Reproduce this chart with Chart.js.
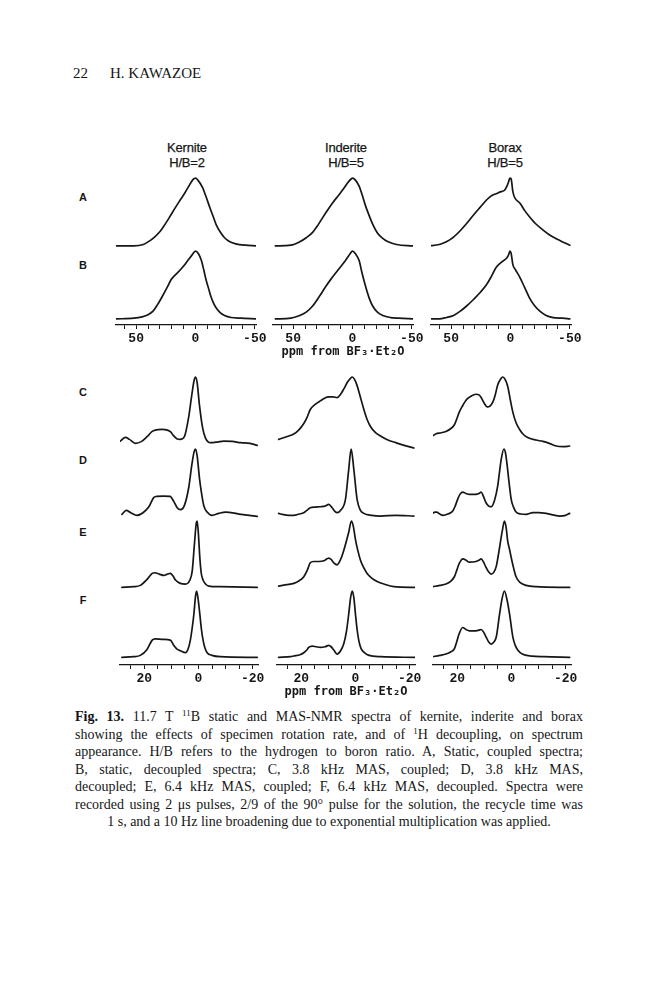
<!DOCTYPE html>
<html><head><meta charset="utf-8">
<script src="https://cdn.jsdelivr.net/npm/chart.js@4.4.1/dist/chart.umd.min.js"></script>
<style>
html,body{margin:0;padding:0;background:#fff;}
#page{position:relative;width:666px;height:1000px;overflow:hidden;background:#fff;color:#161616;}
#page canvas{position:absolute;display:block;}
.hdr{position:absolute;font-family:'Liberation Serif','DejaVu Serif',serif;font-size:15px;line-height:18px;top:64px;}
.ttl{position:absolute;width:80px;text-align:center;font-family:'Liberation Sans','DejaVu Sans',sans-serif;font-size:13px;line-height:15px;letter-spacing:-0.2px;-webkit-text-stroke:0.25px #161616;}
.rl{position:absolute;width:20px;text-align:center;font-family:'Liberation Sans','DejaVu Sans',sans-serif;font-weight:bold;font-size:11px;line-height:12px;}
.cl{position:absolute;left:75px;width:508px;font-family:'Liberation Serif','DejaVu Serif',serif;font-size:14px;line-height:17.5px;white-space:nowrap;text-align:justify;text-align-last:justify;}
.cl.last{text-align-last:center;}
.cl sup{font-size:9px;line-height:0;vertical-align:5px;}
</style></head>
<body><div id="page"></div>
<script>
// ---------------- text ----------------
const pageNumber = '22';
const author = 'H. KAWAZOE';
const minerals = ['Kernite', 'Inderite', 'Borax'];
const ratios = ['H/B=2', 'H/B=5', 'H/B=5'];
const rowLabels = ['A', 'B', 'C', 'D', 'E', 'F'];
const staticTickLabels = [50, 0, -50];
const masTickLabels = [20, 0, -20];
const axisTitle = 'ppm from BF\u2083\u00B7Et\u2082O';
const captionLines = [
  '<b>Fig. 13.</b> 11.7 T <sup>11</sup>B static and MAS-NMR spectra of kernite, inderite and borax',
  'showing the effects of specimen rotation rate, and of <sup>1</sup>H decoupling, on spectrum',
  'appearance. H/B refers to the hydrogen to boron ratio. A, Static, coupled spectra;',
  'B, static, decoupled spectra; C, 3.8 kHz MAS, coupled; D, 3.8 kHz MAS,',
  'decoupled; E, 6.4 kHz MAS, coupled; F, 6.4 kHz MAS, decoupled. Spectra were',
  'recorded using 2 \u03BCs pulses, 2/9 of the 90\u00B0 pulse for the solution, the recycle time was',
  '1 s, and a 10 Hz line broadening due to exponential multiplication was applied.'
];

// ---------------- spectra: [ppm, relative intensity] ----------------
// A: static, coupled
const kerniteA = [[67,0],[52,0],[44,0.02],[39,0.07],[34.5,0.13],[30.5,0.2],[26,0.31],[22,0.42],[17.5,0.55],[13.5,0.66],[9,0.78],[5,0.9],[2,0.98],[0,1],[-2,0.97],[-6,0.86],[-9,0.72],[-12,0.57],[-15,0.43],[-17.5,0.31],[-21,0.2],[-24.5,0.12],[-29,0.06],[-34,0.03],[-42,0.01],[-51,0]];
const inderiteA = [[65,0],[52,0.01],[44.5,0.06],[39,0.12],[33.6,0.2],[29,0.31],[25,0.42],[20.5,0.54],[16.5,0.64],[12,0.74],[8,0.83],[4,0.93],[1,0.99],[0,1],[-2.5,0.97],[-5.6,0.88],[-8,0.76],[-11,0.59],[-14,0.45],[-17,0.32],[-21,0.19],[-25.5,0.11],[-30,0.06],[-37,0.02],[-51,0]];
const boraxA = [[69,0],[60,0.02],[54,0.06],[48,0.13],[42.6,0.22],[37,0.33],[31,0.46],[25,0.58],[20,0.68],[16,0.74],[12,0.77],[8,0.8],[5,0.82],[3,0.88],[1.5,0.95],[0.5,1],[-0.5,0.99],[-2,0.8],[-3.6,0.71],[-8,0.63],[-12,0.52],[-16,0.43],[-21,0.33],[-27,0.24],[-33,0.16],[-39,0.1],[-45,0.05],[-50,0.01]];
// B: static, decoupled
const kerniteB = [[67,0],[52,0.01],[45,0.03],[40,0.06],[36,0.11],[32,0.21],[28,0.33],[24,0.46],[20.5,0.58],[17,0.65],[13.5,0.71],[10,0.78],[6.5,0.86],[3,0.94],[0,1],[-2.5,0.96],[-5,0.86],[-7,0.72],[-9,0.57],[-11,0.45],[-13,0.33],[-15,0.24],[-17.5,0.16],[-21,0.09],[-24.5,0.05],[-30,0.02],[-38,0.01],[-51,0]];
const inderiteB = [[65,0],[52,0.01],[44.5,0.05],[39,0.1],[33.6,0.19],[28,0.33],[22.4,0.48],[18,0.59],[14,0.68],[10,0.77],[5.6,0.87],[2,0.96],[0,1],[-2.5,0.96],[-5.6,0.86],[-8,0.68],[-11,0.48],[-14,0.31],[-17,0.19],[-21,0.1],[-25.5,0.05],[-32,0.02],[-39,0.01],[-51,0]];
const boraxB = [[69,0],[60,0],[54,0.02],[48,0.05],[42.6,0.11],[37,0.19],[31,0.29],[25,0.4],[20,0.51],[16,0.63],[12,0.76],[8,0.83],[5,0.87],[3,0.9],[1.5,0.95],[0.5,1],[-0.5,0.97],[-2,0.8],[-4,0.73],[-8,0.61],[-12,0.46],[-16,0.31],[-20,0.2],[-25,0.11],[-30,0.05],[-36,0.02],[-44,0.01],[-50,0]];
// C: 3.8 kHz MAS, coupled
const kerniteC = [[28.9,0.035],[27,0.09],[25.5,0.06],[23.3,0],[21,0.03],[19,0.1],[17.1,0.18],[16,0.2],[13.5,0.21],[11.5,0.2],[10.2,0.17],[9.3,0.12],[8,0.07],[6.7,0.06],[5.2,0.1],[3.6,0.4],[2.5,0.72],[1.6,0.95],[1.1,1],[0.5,0.92],[-0.3,0.6],[-1.5,0.24],[-2.6,0.08],[-4.4,0.01],[-7,0.02],[-9.3,0.035],[-12.5,0.03],[-15.6,0.01],[-19,0],[-21.7,-0.03]];
const inderiteC = [[28.4,0.06],[25.5,0.1],[22.8,0.14],[21,0.2],[19.1,0.3],[17.8,0.4],[16.7,0.51],[14.8,0.59],[13,0.64],[11.4,0.68],[9.9,0.7],[8.3,0.7],[6.8,0.69],[5.5,0.74],[4.3,0.82],[3,0.92],[1.85,0.98],[1.2,1],[0.3,0.96],[-0.6,0.87],[-1.8,0.7],[-3.1,0.51],[-4.3,0.36],[-5.6,0.25],[-7.4,0.16],[-9.3,0.11],[-12,0.05],[-14.2,0.02],[-18,-0.03],[-21.6,-0.07]];
const boraxC = [[29.5,0.1],[27.9,0.145],[26,0.16],[24.2,0.18],[22.5,0.22],[21.1,0.28],[20.2,0.37],[19.3,0.47],[18,0.57],[16.8,0.65],[15,0.71],[13.1,0.74],[12,0.73],[11.2,0.69],[10,0.6],[9,0.55],[8,0.56],[6.9,0.62],[6,0.73],[5.1,0.88],[4,0.97],[3.2,1],[2.3,0.96],[1.4,0.86],[0.4,0.65],[-0.5,0.47],[-1.7,0.31],[-3,0.21],[-4.5,0.13],[-6,0.09],[-9,0.05],[-11.6,0.03],[-14,0],[-16.5,-0.04],[-19,-0.05],[-21.5,-0.04]];
// D: 3.8 kHz MAS, decoupled
const kerniteD = [[28.3,0.015],[26.7,0.075],[25,0.04],[22.7,0],[20.5,0.04],[18.4,0.125],[16.5,0.27],[15.5,0.285],[13,0.29],[10.5,0.285],[9,0.2],[7.8,0.11],[6.7,0.085],[5.2,0.15],[3.6,0.42],[2.5,0.75],[1.6,0.96],[1.1,1],[0.5,0.9],[-0.4,0.55],[-1,0.37],[-2,0.14],[-3.2,0.05],[-5,0],[-7.5,0.03],[-10,0.05],[-15,0.02],[-21.7,-0.015]];
const inderiteD = [[28.4,0.03],[27,0.015],[24.8,0],[22.8,0],[20.8,0.02],[19.1,0.04],[17.8,0.08],[16.7,0.115],[14.8,0.125],[13,0.13],[11.2,0.14],[9.9,0.165],[8.6,0.115],[7.6,0.06],[6.8,0.04],[5.4,0.08],[3.7,0.24],[2.5,0.69],[1.6,1],[0.6,0.69],[-0.6,0.24],[-1.8,0.08],[-3.1,0.03],[-6,0],[-9.3,-0.01],[-15,0],[-21.6,-0.01]];
const boraxD = [[29.1,0.03],[28.3,0.05],[27.7,0.05],[26.5,0.02],[25.4,0],[23.5,0.02],[21.7,0.065],[20.8,0.14],[19.9,0.24],[19,0.32],[18,0.35],[16.8,0.33],[15.6,0.315],[13.1,0.315],[12,0.33],[11.2,0.35],[10.3,0.28],[9.4,0.19],[8.4,0.14],[7.5,0.13],[6.3,0.22],[5.1,0.44],[4.4,0.66],[3.8,0.84],[2.8,1],[2.2,0.94],[1.7,0.79],[0.9,0.5],[0.1,0.24],[-0.8,0.12],[-1.7,0.05],[-3.5,0.02],[-5.4,0.015],[-7.9,0.04],[-10,0.04],[-12.8,0.03],[-17.8,-0.01],[-20,0],[-21.5,0.03]];
// E: 6.4 kHz MAS, coupled
const kerniteE = [[28.3,0],[24,0.01],[21.5,0.03],[19,0.12],[17.1,0.21],[16.2,0.22],[14.5,0.2],[12.8,0.18],[11.5,0.2],[10.4,0.21],[9.4,0.17],[8.5,0.11],[6.7,0.06],[4.8,0.05],[3.3,0.1],[2.3,0.25],[1.5,0.65],[0.8,0.97],[0.5,1],[0.1,0.85],[-0.5,0.45],[-1,0.22],[-1.7,0.11],[-2.6,0.05],[-3.8,0.02],[-8,0.01],[-21.7,0]];
const inderiteE = [[28.4,0.02],[25.5,0.04],[22.8,0.06],[20.8,0.1],[19.1,0.16],[17.8,0.26],[16.7,0.37],[15.5,0.39],[13.5,0.39],[11.7,0.4],[10.5,0.43],[9.9,0.44],[9,0.42],[8,0.37],[6.8,0.34],[5.5,0.42],[4.3,0.56],[3.2,0.72],[2.5,0.83],[1.5,1],[0.8,0.92],[0,0.72],[-0.9,0.55],[-1.85,0.41],[-3,0.3],[-4.3,0.21],[-6,0.14],[-8,0.09],[-10.5,0.05],[-14.2,0.01],[-22,0]];
const boraxE = [[29.1,0.01],[26.5,0.03],[24.2,0.05],[22.5,0.09],[21.1,0.16],[20.2,0.26],[19.3,0.36],[18,0.43],[16.8,0.41],[15.6,0.38],[13.1,0.39],[12,0.41],[11.2,0.43],[10.3,0.38],[9.4,0.3],[8.4,0.23],[7.5,0.2],[6.5,0.23],[5.6,0.32],[4.4,0.6],[3.4,0.85],[2.6,1],[2,0.91],[1.4,0.7],[0.7,0.57],[0.1,0.45],[-0.8,0.29],[-1.7,0.16],[-3,0.08],[-5.4,0.03],[-9,0.01],[-21.5,0]];
// F: 6.4 kHz MAS, decoupled
const kerniteF = [[28.3,0],[24,0.01],[21.5,0.03],[19,0.12],[17.1,0.26],[16,0.28],[13,0.27],[10.4,0.26],[9.1,0.18],[7.8,0.12],[6.7,0.1],[4.8,0.07],[3.8,0.13],[3,0.26],[2.3,0.45],[1.7,0.65],[1.1,0.92],[0.7,1],[0.2,0.9],[-0.5,0.65],[-1.1,0.42],[-1.7,0.26],[-2.4,0.14],[-3.2,0.07],[-5,0.03],[-8,0.01],[-21.7,0]];
const inderiteF = [[28.4,0],[24,0.01],[22.8,0.02],[20.5,0.04],[19.1,0.07],[18,0.11],[17.3,0.15],[16,0.17],[14.5,0.16],[13,0.15],[11.2,0.16],[9.9,0.18],[9,0.16],[8,0.11],[6.8,0.05],[5.5,0.1],[4.3,0.21],[3.3,0.4],[2.5,0.65],[1.8,0.9],[1.2,1],[0.6,0.9],[0,0.65],[-0.6,0.42],[-1.2,0.26],[-2,0.14],[-3.1,0.08],[-5,0.03],[-9.3,0.01],[-22,0]];
const boraxF = [[29.1,0.01],[26.5,0.03],[24.2,0.05],[22.5,0.08],[21.1,0.13],[20.2,0.24],[19.3,0.36],[18,0.45],[16.8,0.42],[15.6,0.4],[13.1,0.4],[12,0.41],[11.2,0.42],[10.3,0.38],[9.4,0.31],[8.4,0.23],[7.5,0.2],[6.5,0.23],[5.6,0.31],[4.4,0.65],[3.4,0.9],[2.6,1],[1.7,0.88],[0.7,0.65],[-0.5,0.31],[-1.4,0.18],[-2.3,0.11],[-4,0.05],[-7.5,0.02],[-12,0.01],[-21.5,0]];

const staticRows = [[kerniteA, inderiteA, boraxA], [kerniteB, inderiteB, boraxB]];
const masRows = [[kerniteC, inderiteC, boraxC], [kerniteD, inderiteD, boraxD], [kerniteE, inderiteE, boraxE], [kerniteF, inderiteF, boraxF]];

// ---------------- layout (pixels) ----------------
const PAD = 22, AXIS_H = 36;
const INK = '#161616';
const panels = [
  { rows: staticRows, zero: [196, 353, 511], ppx: 1.19, max: 67, min: -51, step: 10,
    baselines: [246.5, 319], unit: 68, ymin: -0.09, ymax: 1.06, labels: staticTickLabels },
  { rows: masRows, zero: [198, 355, 511.5], ppx: 2.7, max: 29, min: -22, step: 5,
    baselines: [443.4, 515.5, 587.5, 657.3], unit: 66.5, ymin: -0.115, ymax: 1.06, labels: masTickLabels }
];

const page = document.getElementById('page');
function addDiv(cls, html, left, top) {
  const d = document.createElement('div');
  d.className = cls; d.innerHTML = html;
  d.style.left = left + 'px'; d.style.top = top + 'px';
  page.appendChild(d); return d;
}

addDiv('hdr', pageNumber, 73, 64);
addDiv('hdr', author, 110, 64);
const titleX = [187, 346, 505];
minerals.forEach((m, i) => { addDiv('ttl', m, titleX[i] - 40, 140); addDiv('ttl', ratios[i], titleX[i] - 40, 155); });
const rowLabelY = [197, 265, 392, 460, 532, 600];
rowLabels.forEach((r, i) => addDiv('rl', r, 73, rowLabelY[i] - 6));
captionLines.forEach((t, i) => {
  addDiv('cl' + (i === captionLines.length - 1 ? ' last' : ''), t, 75, 708 + i * 17.5);
});

const fontMono = { family: "'Liberation Mono','DejaVu Sans Mono',monospace", size: 13, weight: 'bold' };
const fontTitle = { family: "'DejaVu Sans Mono','Liberation Mono',monospace", size: 12, weight: 'bold' };

panels.forEach(p => {
  const chartW = Math.round((p.max - p.min) * p.ppx);
  const chartH = Math.round((p.ymax - p.ymin) * p.unit);
  p.rows.forEach((row, ri) => {
    const isBottom = ri === p.rows.length - 1;
    row.forEach((spec, ci) => {
      const cv = document.createElement('canvas');
      const w = chartW + 2 * PAD, h = chartH + (isBottom ? AXIS_H : 0);
      cv.width = w; cv.height = h;
      cv.style.width = w + 'px'; cv.style.height = h + 'px';
      cv.style.left = Math.round(p.zero[ci] - p.max * p.ppx - PAD) + 'px';
      cv.style.top = Math.round(p.baselines[ri] - p.ymax * p.unit) + 'px';
      page.appendChild(cv);
      const xScale = {
        type: 'linear', reverse: true, min: p.min, max: p.max, display: isBottom,
        border: { display: true, color: INK, width: 1.3 },
        grid: { display: true, drawOnChartArea: false, drawTicks: true, tickLength: 4, color: INK, lineWidth: 1 },
        ticks: { stepSize: p.step, includeBounds: false, autoSkip: false, maxRotation: 0, padding: 2,
          color: INK, font: fontMono,
          callback: v => p.labels.includes(v) ? String(v) : '' },
        title: { display: ci === 1, text: axisTitle, color: INK, font: fontTitle, padding: { top: 0, bottom: 2 } }
      };
      if (isBottom) xScale.afterFit = s => { s.height = AXIS_H; };
      new Chart(cv, {
        type: 'line',
        data: { datasets: [{ data: spec, borderColor: INK, borderWidth: 1.7, pointRadius: 0,
          cubicInterpolationMode: 'monotone', fill: false, borderJoinStyle: 'round', borderCapStyle: 'round' }] },
        options: {
          responsive: false, animation: false, events: [],
          layout: { padding: { left: PAD, right: PAD, top: 0, bottom: 0 } },
          plugins: { legend: { display: false }, tooltip: { enabled: false }, title: { display: false } },
          scales: {
            x: xScale,
            y: { type: 'linear', min: p.ymin, max: p.ymax, display: false }
          }
        }
      });
    });
  });
});
</script>
</body></html>
